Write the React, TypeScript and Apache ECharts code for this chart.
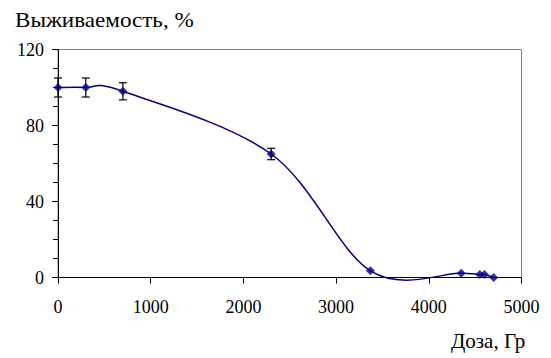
import React, { useEffect, useRef } from "react";
import * as echarts from "echarts";

const doses = [0, 300, 700, 2300, 3370, 4350, 4550, 4600, 4700];
const survival = [100, 100, 98, 65, 3.5, 2.3, 1.6, 1.6, 0];
const errors = [5, 5, 4.5, 3, 0, 0, 0, 0, 0];
const yTickLabels = [0, 40, 80, 120];
const xTickLabels = [0, 1000, 2000, 3000, 4000, 5000];

const FONT = "Liberation Serif";

export default function App() {
  const ref = useRef<HTMLDivElement>(null);
  useEffect(() => {
    if (!ref.current) return;
    const chart = echarts.init(ref.current, undefined, { renderer: "svg" });
    const points = doses.map((d, i) => [d, survival[i]]);
    const errData = doses
      .map((d, i) => [d, survival[i], errors[i]])
      .filter((p) => p[2] > 0);
    chart.setOption({
      animation: false,
      backgroundColor: "#ffffff",
      textStyle: { fontFamily: FONT },
      grid: {
        left: 58,
        right: 29.5,
        top: 49.5,
        bottom: 80.5,
        show: true,
        borderColor: "#808080",
        borderWidth: 1,
        backgroundColor: "transparent",
      },
      xAxis: {
        type: "value",
        min: 0,
        max: 5000,
        interval: 1000,
        axisLine: { lineStyle: { color: "#000", width: 1 } },
        axisTick: { show: true, inside: false, length: 6, lineStyle: { color: "#000" } },
        splitLine: { show: false },
        axisLabel: {
          color: "#000",
          fontFamily: FONT,
          fontSize: 18,
          margin: 20,
          formatter: (v: number) => (xTickLabels.includes(v) ? String(v) : ""),
        },
      },
      yAxis: {
        type: "value",
        min: 0,
        max: 120,
        interval: 40,
        axisLine: { show: true, lineStyle: { color: "#000", width: 1 } },
        axisTick: { show: true, inside: false, length: 6, lineStyle: { color: "#000" } },
        minorTick: { show: true, splitNumber: 4, length: 5, lineStyle: { color: "#000" } },
        splitLine: { show: false },
        axisLabel: {
          color: "#000",
          fontFamily: FONT,
          fontSize: 18,
          margin: 14,
          formatter: (v: number) => (yTickLabels.includes(v) ? String(v) : ""),
        },
      },
      graphic: [
        {
          type: "text",
          x: 15,
          y: 9,
          scaleX: 1.1,
          style: {
            text: "Выживаемость, %",
            fontFamily: FONT,
            fontSize: 21,
            fill: "#000",
            verticalAlign: "top",
          },
        },
        {
          type: "text",
          x: 451,
          y: 330,
          style: {
            text: "Доза, Гр",
            fontFamily: FONT,
            fontSize: 21,
            fill: "#000",
            verticalAlign: "top",
          },
        },
      ],
      series: [
        {
          type: "custom",
          data: [[0, 0]],
          z: 2,
          silent: true,
          renderItem: (params: any, api: any) => {
            const p = doses.map((d, i) => api.coord([d, survival[i]]));
            const n = p.length;
            let d = `M${p[0][0]},${p[0][1]}`;
            for (let i = 0; i < n - 1; i++) {
              const p0 = p[Math.max(0, i - 1)];
              const p1 = p[i];
              const p2 = p[i + 1];
              const p3 = p[Math.min(n - 1, i + 2)];
              const c1 = [p1[0] + (p2[0] - p0[0]) / 6, p1[1] + (p2[1] - p0[1]) / 6];
              const c2 = [p2[0] - (p3[0] - p1[0]) / 6, p2[1] - (p3[1] - p1[1]) / 6];
              d += ` C${c1[0]},${c1[1]} ${c2[0]},${c2[1]} ${p2[0]},${p2[1]}`;
            }
            return {
              type: "path",
              shape: { pathData: d },
              style: { fill: "none", stroke: "#000080", lineWidth: 1.5 },
            };
          },
        },
        {
          type: "custom",
          data: errData,
          z: 3,
          renderItem: (params: any, api: any) => {
            const x = api.value(0);
            const y = api.value(1);
            const e = api.value(2);
            const top = api.coord([x, y + e]);
            const bot = api.coord([x, y - e]);
            const w = 4;
            const style = { stroke: "#000", lineWidth: 1.2 };
            return {
              type: "group",
              children: [
                { type: "line", shape: { x1: top[0], y1: top[1], x2: bot[0], y2: bot[1] }, style },
                { type: "line", shape: { x1: top[0] - w, y1: top[1], x2: top[0] + w, y2: top[1] }, style },
                { type: "line", shape: { x1: bot[0] - w, y1: bot[1], x2: bot[0] + w, y2: bot[1] }, style },
              ],
            };
          },
        },
        {
          type: "scatter",
          data: points,
          symbol: "diamond",
          symbolSize: 9,
          itemStyle: { color: "#000080" },
          z: 4,
        },
      ],
    });
    return () => chart.dispose();
  }, []);
  return <div ref={ref} style={{ width: 551, height: 358, position: "absolute", left: 0, top: 0 }} />;
}
